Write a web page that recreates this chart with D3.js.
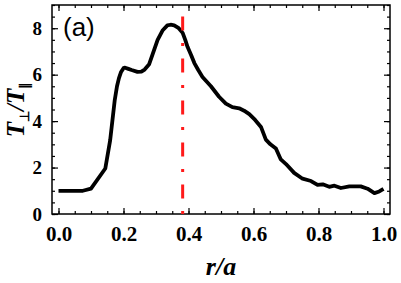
<!DOCTYPE html>
<html>
<head>
<meta charset="utf-8">
<script src="https://cdn.jsdelivr.net/npm/d3@7"></script>
<style>
  body { margin: 0; background: #fff; }
  svg { display: block; }
</style>
</head>
<body>
<div class="container"></div>
<script>
// data
var rVals = [0, 0.075, 0.10, 0.144, 0.159, 0.173, 0.18, 0.186, 0.192, 0.20, 0.205, 0.215, 0.225, 0.243, 0.255,
	0.265, 0.279, 0.29, 0.305, 0.32, 0.335, 0.345, 0.356, 0.37, 0.382, 0.39, 0.397, 0.408, 0.418, 0.43,
	0.443, 0.469, 0.494, 0.515, 0.535, 0.556, 0.571, 0.587, 0.605,
	0.623, 0.638, 0.652, 0.669, 0.684, 0.700, 0.725, 0.751, 0.777, 0.797, 0.813, 0.833, 0.849, 0.869, 0.895,
	0.930, 0.951, 0.972, 0.987, 1.0];
var tRatio = [1.0, 1.0, 1.09, 1.96, 3.18, 4.9, 5.5, 5.85, 6.1, 6.28, 6.3, 6.25, 6.2, 6.12, 6.13,
	6.22, 6.45, 6.9, 7.5, 7.9, 8.12, 8.15, 8.12, 8.0, 7.8, 7.5, 7.2, 6.85, 6.5, 6.2,
	5.9, 5.5, 5.05, 4.75, 4.6, 4.55, 4.45, 4.3, 4.05,
	3.75, 3.2, 3.0, 2.82, 2.35, 2.15, 1.77, 1.52, 1.42, 1.25, 1.28, 1.17, 1.22, 1.12, 1.19,
	1.19, 1.09, 0.9, 0.97, 1.08];
var markerR = 0.382;

var xTicks = [0, 0.2, 0.4, 0.6, 0.8, 1.0];
var xTickLabels = ['0.0', '0.2', '0.4', '0.6', '0.8', '1.0'];
var yTicks = [0, 2, 4, 6, 8];
var yTickLabels = ['0', '2', '4', '6', '8'];

var W = 401, H = 283;
var pLeft = 52, pRight = 390, pTop = 5, pBottom = 214;

var svg = d3.select('.container').append('svg').attr('width', W).attr('height', H);

var x = d3.scaleLinear().domain([-0.02, 1.02]).range([pLeft, pRight]);
var y = d3.scaleLinear().domain([0, 9]).range([pBottom, pTop]);

var xMinor = d3.range(0, 1.001, 0.05);
var yMinor = d3.range(0, 9.001, 0.5);

function tidy(g){
	g.select('.domain').remove();
	g.selectAll('.tick line').attr('stroke', '#000').attr('stroke-width', 1.2);
}

// minor ticks
svg.append('g').attr('transform', 'translate(0,' + pBottom + ')')
	.call(d3.axisBottom(x).tickValues(xMinor).tickSize(-3).tickFormat('')).call(tidy);
svg.append('g').attr('transform', 'translate(0,' + pTop + ')')
	.call(d3.axisTop(x).tickValues(xMinor).tickSize(-3).tickFormat('')).call(tidy);
svg.append('g').attr('transform', 'translate(' + pLeft + ',0)')
	.call(d3.axisLeft(y).tickValues(yMinor).tickSize(-3).tickFormat('')).call(tidy);
svg.append('g').attr('transform', 'translate(' + pRight + ',0)')
	.call(d3.axisRight(y).tickValues(yMinor).tickSize(-3).tickFormat('')).call(tidy);

// major ticks
var xb = svg.append('g').attr('transform', 'translate(0,' + pBottom + ')')
	.call(d3.axisBottom(x).tickValues(xTicks).tickSize(-6).tickPadding(12)
		.tickFormat(function(d, i){ return xTickLabels[i]; }));
xb.call(tidy);
xb.selectAll('text').attr('font-family', '"Liberation Serif", serif').attr('font-weight', 'bold')
	.attr('font-size', 21).attr('fill', '#000');

svg.append('g').attr('transform', 'translate(0,' + pTop + ')')
	.call(d3.axisTop(x).tickValues(xTicks).tickSize(-6).tickFormat('')).call(tidy);

var yl = svg.append('g').attr('transform', 'translate(' + pLeft + ',0)')
	.call(d3.axisLeft(y).tickValues(yTicks).tickSize(-6).tickPadding(10)
		.tickFormat(function(d, i){ return yTickLabels[i]; }));
yl.call(tidy);
yl.selectAll('text').attr('font-family', '"Liberation Serif", serif').attr('font-weight', 'bold')
	.attr('font-size', 19).attr('fill', '#000');

svg.append('g').attr('transform', 'translate(' + pRight + ',0)')
	.call(d3.axisRight(y).tickValues(yTicks).tickSize(-6).tickFormat('')).call(tidy);

// frame
svg.append('rect').attr('x', pLeft).attr('y', pTop)
	.attr('width', pRight - pLeft).attr('height', pBottom - pTop)
	.attr('fill', 'none').attr('stroke', '#000').attr('stroke-width', 1.5);

// curve
var line = d3.line()
	.x(function(d){ return x(d[0]); })
	.y(function(d){ return y(d[1]); });

svg.append('path')
	.datum(d3.zip(rVals, tRatio))
	.attr('d', line)
	.attr('fill', 'none')
	.attr('stroke', '#000')
	.attr('stroke-width', 3.8)
	.attr('stroke-linejoin', 'round');

// red dash-dot marker
svg.append('line')
	.attr('x1', x(markerR)).attr('x2', x(markerR))
	.attr('y1', y(0)).attr('y2', y(9))
	.attr('stroke', '#ff1a1a')
	.attr('stroke-width', 3)
	.attr('stroke-dasharray', '3,12.5,14,12.5');

// panel label
svg.append('text').attr('x', 63).attr('y', 36)
	.attr('font-family', '"Liberation Sans", Arial, sans-serif')
	.attr('font-size', 26).attr('fill', '#000')
	.text('(a)');

// axis titles
svg.append('text').attr('x', (pLeft + pRight) / 2).attr('y', 275)
	.attr('text-anchor', 'middle')
	.attr('font-family', '"Liberation Serif", serif')
	.attr('font-style', 'italic').attr('font-weight', 'bold')
	.attr('font-size', 26).attr('fill', '#000')
	.text('r/a');

var yt = svg.append('text')
	.attr('transform', 'translate(24,' + ((pTop + pBottom) / 2) + ') rotate(-90)')
	.attr('text-anchor', 'middle')
	.attr('font-family', '"Liberation Serif", serif')
	.attr('font-style', 'italic').attr('font-weight', 'bold')
	.attr('font-size', 25).attr('fill', '#000');
yt.append('tspan').text('T');
yt.append('tspan').attr('font-size', 13).attr('font-style', 'normal').attr('dy', 5).text('\u22A5');
yt.append('tspan').attr('dy', -5).text('/T');
yt.append('tspan').attr('font-size', 13).attr('font-style', 'normal').attr('dy', 5).text('\u2225');
</script>
</body>
</html>
